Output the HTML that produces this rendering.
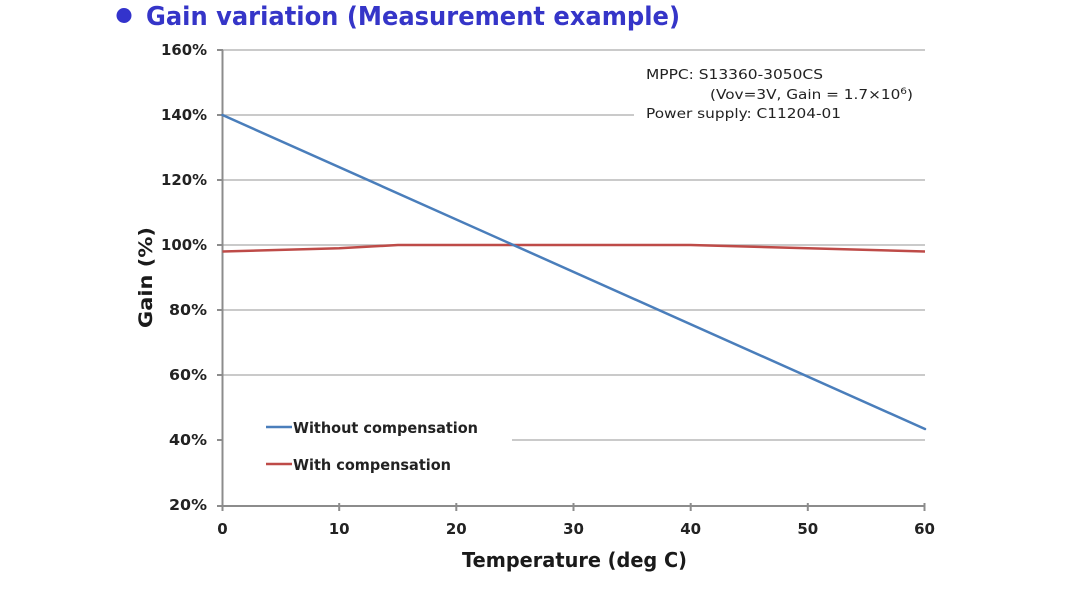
<!DOCTYPE html>
<html>
<head>
<meta charset="utf-8">
<style>
  html,body{margin:0;padding:0;background:#fff;}
  svg{display:block;}
  text{font-family:"DejaVu Sans","Liberation Sans",sans-serif;}
</style>
</head>
<body>
<svg width="1080" height="596" viewBox="0 0 1080 596" xmlns="http://www.w3.org/2000/svg">
  <rect x="0" y="0" width="1080" height="596" fill="#ffffff"/>

  <!-- Title -->
  <circle cx="124" cy="15.5" r="7.5" fill="#3333cc"/>
  <text x="146" y="25" font-size="26" font-weight="bold" fill="#3535c8" textLength="534" lengthAdjust="spacingAndGlyphs">Gain variation (Measurement example)</text>

  <!-- Gridlines -->
  <g stroke="#b8b8b8" stroke-width="1.5">
    <line x1="222" y1="50" x2="925" y2="50"/>
    <line x1="222" y1="115" x2="634" y2="115"/>
    <line x1="222" y1="180" x2="925" y2="180"/>
    <line x1="222" y1="245" x2="925" y2="245"/>
    <line x1="222" y1="310" x2="925" y2="310"/>
    <line x1="222" y1="375" x2="925" y2="375"/>
    <line x1="512" y1="440" x2="925" y2="440"/>
  </g>

  <!-- Axes -->
  <g stroke="#8c8c8c" stroke-width="2">
    <line x1="222.5" y1="50" x2="222.5" y2="506"/>
    <line x1="221.5" y1="506" x2="925" y2="506"/>
    <!-- y ticks -->
    <line x1="217" y1="50" x2="223" y2="50"/>
    <line x1="217" y1="115" x2="223" y2="115"/>
    <line x1="217" y1="180" x2="223" y2="180"/>
    <line x1="217" y1="245" x2="223" y2="245"/>
    <line x1="217" y1="310" x2="223" y2="310"/>
    <line x1="217" y1="375" x2="223" y2="375"/>
    <line x1="217" y1="440" x2="223" y2="440"/>
    <line x1="217" y1="506" x2="223" y2="506"/>
    <!-- x ticks -->
    <line x1="222.5" y1="506" x2="222.5" y2="511"/>
    <line x1="339.2" y1="503" x2="339.2" y2="511"/>
    <line x1="456.3" y1="503" x2="456.3" y2="511"/>
    <line x1="573.5" y1="503" x2="573.5" y2="511"/>
    <line x1="690.7" y1="503" x2="690.7" y2="511"/>
    <line x1="807.8" y1="503" x2="807.8" y2="511"/>
    <line x1="924.5" y1="503" x2="924.5" y2="511"/>
  </g>

  <!-- Y tick labels -->
  <g font-size="15" font-weight="bold" fill="#222" text-anchor="end">
    <text x="207" y="55" textLength="46" lengthAdjust="spacingAndGlyphs">160%</text>
    <text x="207" y="120" textLength="46" lengthAdjust="spacingAndGlyphs">140%</text>
    <text x="207" y="185" textLength="46" lengthAdjust="spacingAndGlyphs">120%</text>
    <text x="207" y="250" textLength="46" lengthAdjust="spacingAndGlyphs">100%</text>
    <text x="207" y="315" textLength="38" lengthAdjust="spacingAndGlyphs">80%</text>
    <text x="207" y="380" textLength="38" lengthAdjust="spacingAndGlyphs">60%</text>
    <text x="207" y="445" textLength="38" lengthAdjust="spacingAndGlyphs">40%</text>
    <text x="207" y="510" textLength="38" lengthAdjust="spacingAndGlyphs">20%</text>
  </g>

  <!-- X tick labels -->
  <g font-size="15" font-weight="bold" fill="#222" text-anchor="middle">
    <text x="222.5" y="534">0</text>
    <text x="339.2" y="534">10</text>
    <text x="456.3" y="534">20</text>
    <text x="573.5" y="534">30</text>
    <text x="690.7" y="534">40</text>
    <text x="807.8" y="534">50</text>
    <text x="924.5" y="534">60</text>
  </g>

  <!-- Axis titles -->
  <text x="462" y="567" font-size="20" font-weight="bold" fill="#1a1a1a" textLength="225" lengthAdjust="spacingAndGlyphs">Temperature (deg C)</text>
  <text transform="translate(152,328) rotate(-90)" x="0" y="0" font-size="19" font-weight="bold" fill="#1a1a1a" textLength="101" lengthAdjust="spacingAndGlyphs">Gain  (%)</text>

  <!-- Series -->
  <polyline points="222.5,251.5 339.2,248.25 398,245 690.7,245 807.8,248.25 925,251.5" fill="none" stroke="#be4b48" stroke-width="2.5" stroke-linejoin="round"/>
  <line x1="222.5" y1="115" x2="925" y2="429" stroke="#4a7ebb" stroke-width="2.5" stroke-linecap="round"/>

  <!-- Legend -->
  <line x1="266" y1="427" x2="292" y2="427" stroke="#4a7ebb" stroke-width="2.5"/>
  <text x="293" y="433" font-size="15" font-weight="bold" fill="#222" textLength="185" lengthAdjust="spacingAndGlyphs">Without compensation</text>
  <line x1="266" y1="464" x2="292" y2="464" stroke="#be4b48" stroke-width="2.5"/>
  <text x="293" y="470" font-size="15" font-weight="bold" fill="#222" textLength="158" lengthAdjust="spacingAndGlyphs">With compensation</text>

  <!-- Annotation -->
  <g font-size="13" fill="#222">
    <text x="646" y="79" textLength="177" lengthAdjust="spacingAndGlyphs">MPPC: S13360-3050CS</text>
    <text x="710" y="99" textLength="203" lengthAdjust="spacingAndGlyphs">(Vov=3V, Gain = 1.7×10<tspan font-size="9" dy="-5">6</tspan><tspan dy="5">)</tspan></text>
    <text x="646" y="118" textLength="195" lengthAdjust="spacingAndGlyphs">Power supply: C11204-01</text>
  </g>
</svg>
</body>
</html>
